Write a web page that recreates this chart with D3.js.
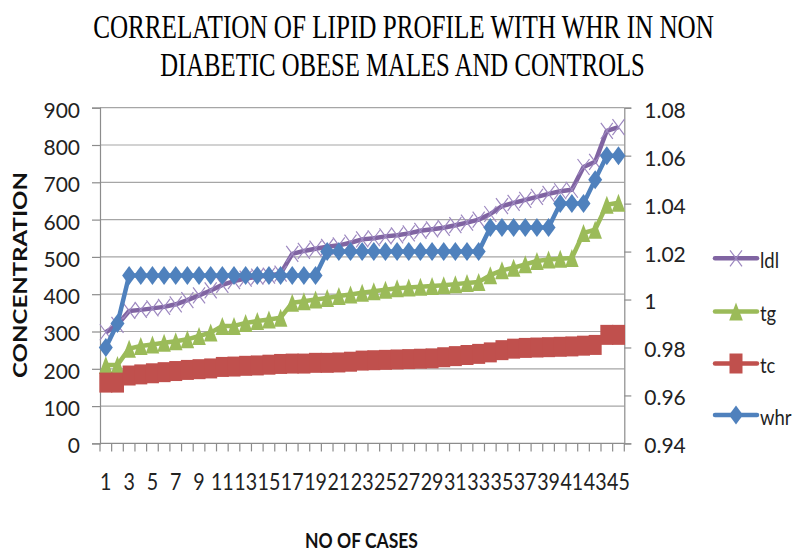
<!DOCTYPE html>
<html>
<head>
<meta charset="utf-8">
<script src="https://cdn.jsdelivr.net/npm/d3@7"></script>
<style>
  html, body { margin: 0; padding: 0; background: #fff; }
  svg { display: block; }
</style>
</head>
<body>
<div id="chart"></div>
<script>
// Case numbers along the x axis
const cases = [1,2,3,4,5,6,7,8,9,10,11,12,13,14,15,16,17,18,19,20,21,22,23,24,25,26,27,28,29,30,31,32,33,34,35,36,37,38,39,40,41,42,43,44,45];

// Lipid profile values (mg/dl), primary axis
const ldl = [298,318,355,358,362,366,373,384,397,410,425,435,442,447,450,455,508,516,522,527,531,538,547,550,555,558,563,570,574,578,585,592,600,615,636,645,653,661,669,676,680,741,755,838,848];
const tg  = [210,210,254,261,265,270,274,279,288,297,315,315,323,328,332,337,377,381,386,390,395,399,404,408,412,416,418,420,422,424,427,430,433,451,464,471,480,489,493,495,497,564,573,640,645];
const tc  = [163,163,182,185,188,191,194,197,199,201,205,206,208,209,211,213,214,214,216,216,217,219,222,223,224,225,226,227,228,231,234,237,240,244,250,254,256,257,258,259,260,262,264,291,291];

// Waist-hip ratio, secondary axis
const whr = [0.98,0.99,1.01,1.01,1.01,1.01,1.01,1.01,1.01,1.01,1.01,1.01,1.01,1.01,1.01,1.01,1.01,1.01,1.01,1.02,1.02,1.02,1.02,1.02,1.02,1.02,1.02,1.02,1.02,1.02,1.02,1.02,1.02,1.03,1.03,1.03,1.03,1.03,1.03,1.04,1.04,1.04,1.05,1.06,1.06];

// Axis ticks
const leftTicks  = [0,100,200,300,400,500,600,700,800,900];
const rightTicks = [0.94,0.96,0.98,1.00,1.02,1.04,1.06,1.08];
const rightTickLabels = ["0.94","0.96","0.98","1","1.02","1.04","1.06","1.08"];

const titleLines = ["CORRELATION OF LIPID PROFILE WITH WHR IN NON", "DIABETIC OBESE MALES AND CONTROLS"];
const seriesNames = ["ldl","tg","tc","whr"];

const W = 795, H = 553;
const plot = { left: 100, right: 624.3, top: 107.7, bottom: 443.4 };
const sansFont = "Lato, 'Open Sans', sans-serif";

const svg = d3.select("#chart").append("svg")
  .attr("width", W).attr("height", H);

const x = d3.scaleBand().domain(cases).range([plot.left, plot.right]).padding(0);
const cx = d => x(d) + x.bandwidth() / 2;
const yL = d3.scaleLinear().domain([0, 900]).range([plot.bottom, plot.top]);
const yR = d3.scaleLinear().domain([0.94, 1.08]).range([plot.bottom, plot.top]);

const colors = { ldl: "#8064A2", tg: "#9BBB59", tc: "#C0504D", whr: "#4F81BD" };
const gridColor = "#a6a6a6", axisColor = "#8c8c8c";

// Squeeze a text horizontally so it spans the given width
function fitText(sel, prefix, width) {
  sel.each(function() {
    const len = this.getComputedTextLength();
    const s = width / len;
    d3.select(this).attr("transform", `${prefix} scale(${s},1)`);
  });
}

// Title
svg.selectAll("text.title").data(titleLines).join("text")
  .attr("class", "title")
  .attr("text-anchor", "middle")
  .attr("font-family", "'Liberation Serif', 'Times New Roman', serif")
  .attr("font-size", 33)
  .attr("fill", "#000")
  .text(d => d)
  .each(function(d, i) {
    fitText(d3.select(this),
      i === 0 ? "translate(403.5,38)" : "translate(402.5,76)",
      i === 0 ? 621 : 485);
  });

// Horizontal gridlines
svg.append("g").selectAll("line").data(leftTicks.filter(v => v > 0)).join("line")
  .attr("x1", plot.left).attr("x2", plot.right)
  .attr("y1", d => yL(d)).attr("y2", d => yL(d))
  .attr("stroke", gridColor).attr("stroke-width", 1.2);

// Left axis
const gL = svg.append("g").attr("transform", `translate(${plot.left},0)`)
  .call(d3.axisLeft(yL).tickValues(leftTicks).tickSize(8).tickPadding(12).tickFormat(d3.format("d")));
gL.select(".domain").attr("stroke", axisColor).attr("stroke-width", 1.2);
gL.selectAll(".tick line").attr("stroke", axisColor).attr("stroke-width", 1.2);
gL.selectAll(".tick text")
  .attr("font-family", sansFont).attr("font-size", 21).attr("fill", "#222")
  .attr("dy", "0.45em");

// Right axis
const gR = svg.append("g").attr("transform", `translate(${plot.right},0)`)
  .call(d3.axisRight(yR).tickValues(rightTicks).tickSize(7).tickPadding(13)
    .tickFormat((d, i) => rightTickLabels[i]));
gR.select(".domain").attr("stroke", axisColor).attr("stroke-width", 1.2);
gR.selectAll(".tick line").attr("stroke", axisColor).attr("stroke-width", 1.2);
gR.selectAll(".tick text")
  .attr("font-family", sansFont).attr("font-size", 21).attr("fill", "#222")
  .attr("dy", "0.45em");

// Bottom axis: tick marks on every category boundary
const gB = svg.append("g").attr("transform", `translate(0,${plot.bottom})`);
gB.append("line").attr("x1", plot.left).attr("x2", plot.right)
  .attr("stroke", axisColor).attr("stroke-width", 1.2);
gB.selectAll("line.tk").data(cases.concat([null])).join("line")
  .attr("class", "tk")
  .attr("x1", d => d === null ? plot.right : x(d))
  .attr("x2", d => d === null ? plot.right : x(d))
  .attr("y1", 0).attr("y2", 8)
  .attr("stroke", axisColor).attr("stroke-width", 1.2);
gB.selectAll("text").data(cases.filter(c => c % 2 === 1)).join("text")
  .attr("transform", d => `translate(${cx(d)},47) scale(0.82,1)`)
  .attr("text-anchor", "middle")
  .attr("font-family", sansFont).attr("font-size", 24).attr("fill", "#222")
  .text(d => d);

// Axis titles
svg.append("text")
  .attr("text-anchor", "middle")
  .attr("font-family", sansFont).attr("font-weight", "bold").attr("font-size", 19)
  .attr("fill", "#111")
  .text("CONCENTRATION")
  .call(fitText, "translate(27,275) rotate(-90)", 206);
svg.append("text")
  .attr("text-anchor", "middle")
  .attr("font-family", sansFont).attr("font-weight", "bold").attr("font-size", 20)
  .attr("fill", "#111")
  .text("NO OF CASES")
  .call(fitText, "translate(361.5,547.5)", 113);

// Marker shapes, centred on (0,0)
function markerPath(kind) {
  const p = d3.path();
  if (kind === "tc") { p.rect(-6.5, -10, 13, 20); }
  else if (kind === "tg") { p.moveTo(0, -9); p.lineTo(6.8, 9); p.lineTo(-6.8, 9); p.closePath(); }
  else if (kind === "whr") { p.moveTo(0, -9.5); p.lineTo(7, 0); p.lineTo(0, 9.5); p.lineTo(-7, 0); p.closePath(); }
  else { p.moveTo(-6, -8); p.lineTo(6, 8); p.moveTo(-6, 8); p.lineTo(6, -8); }
  return p.toString();
}
function styleMarker(sel, kind) {
  if (kind === "ldl") sel.attr("fill", "none").attr("stroke", "#9d88c0").attr("stroke-width", 1.2);
  else sel.attr("fill", colors[kind]).attr("stroke", "none");
}

const seriesData = [
  { key: "ldl", values: ldl, y: yL },
  { key: "tg",  values: tg,  y: yL },
  { key: "tc",  values: tc,  y: yL },
  { key: "whr", values: whr, y: yR }
];

seriesData.forEach(s => {
  const g = svg.append("g").attr("class", "series-" + s.key);
  const line = d3.line().x((d, i) => cx(cases[i])).y(d => s.y(d));
  g.append("path").datum(s.values)
    .attr("d", line)
    .attr("fill", "none")
    .attr("stroke", colors[s.key])
    .attr("stroke-width", 4.5)
    .attr("stroke-linejoin", "round");
  const m = g.selectAll("path.mk").data(s.values).join("path")
    .attr("class", "mk")
    .attr("transform", (d, i) => `translate(${cx(cases[i])},${s.y(d)})`)
    .attr("d", markerPath(s.key));
  styleMarker(m, s.key);
});

// Legend
const legendRows = [258.3, 311.5, 363.5, 415];
const lg = svg.append("g");
seriesNames.forEach((name, i) => {
  const yy = legendRows[i];
  lg.append("line").attr("x1", 715).attr("x2", 757).attr("y1", yy).attr("y2", yy)
    .attr("stroke", colors[name]).attr("stroke-width", 4.5).attr("stroke-linecap", "round");
  const mk = lg.append("path").attr("transform", `translate(736,${yy})`).attr("d", markerPath(name));
  styleMarker(mk, name);
  lg.append("text")
    .attr("transform", `translate(760,${yy + 9.5}) scale(0.84,1)`)
    .attr("font-family", sansFont).attr("font-size", 22).attr("fill", "#222")
    .text(name);
});
</script>
</body>
</html>
